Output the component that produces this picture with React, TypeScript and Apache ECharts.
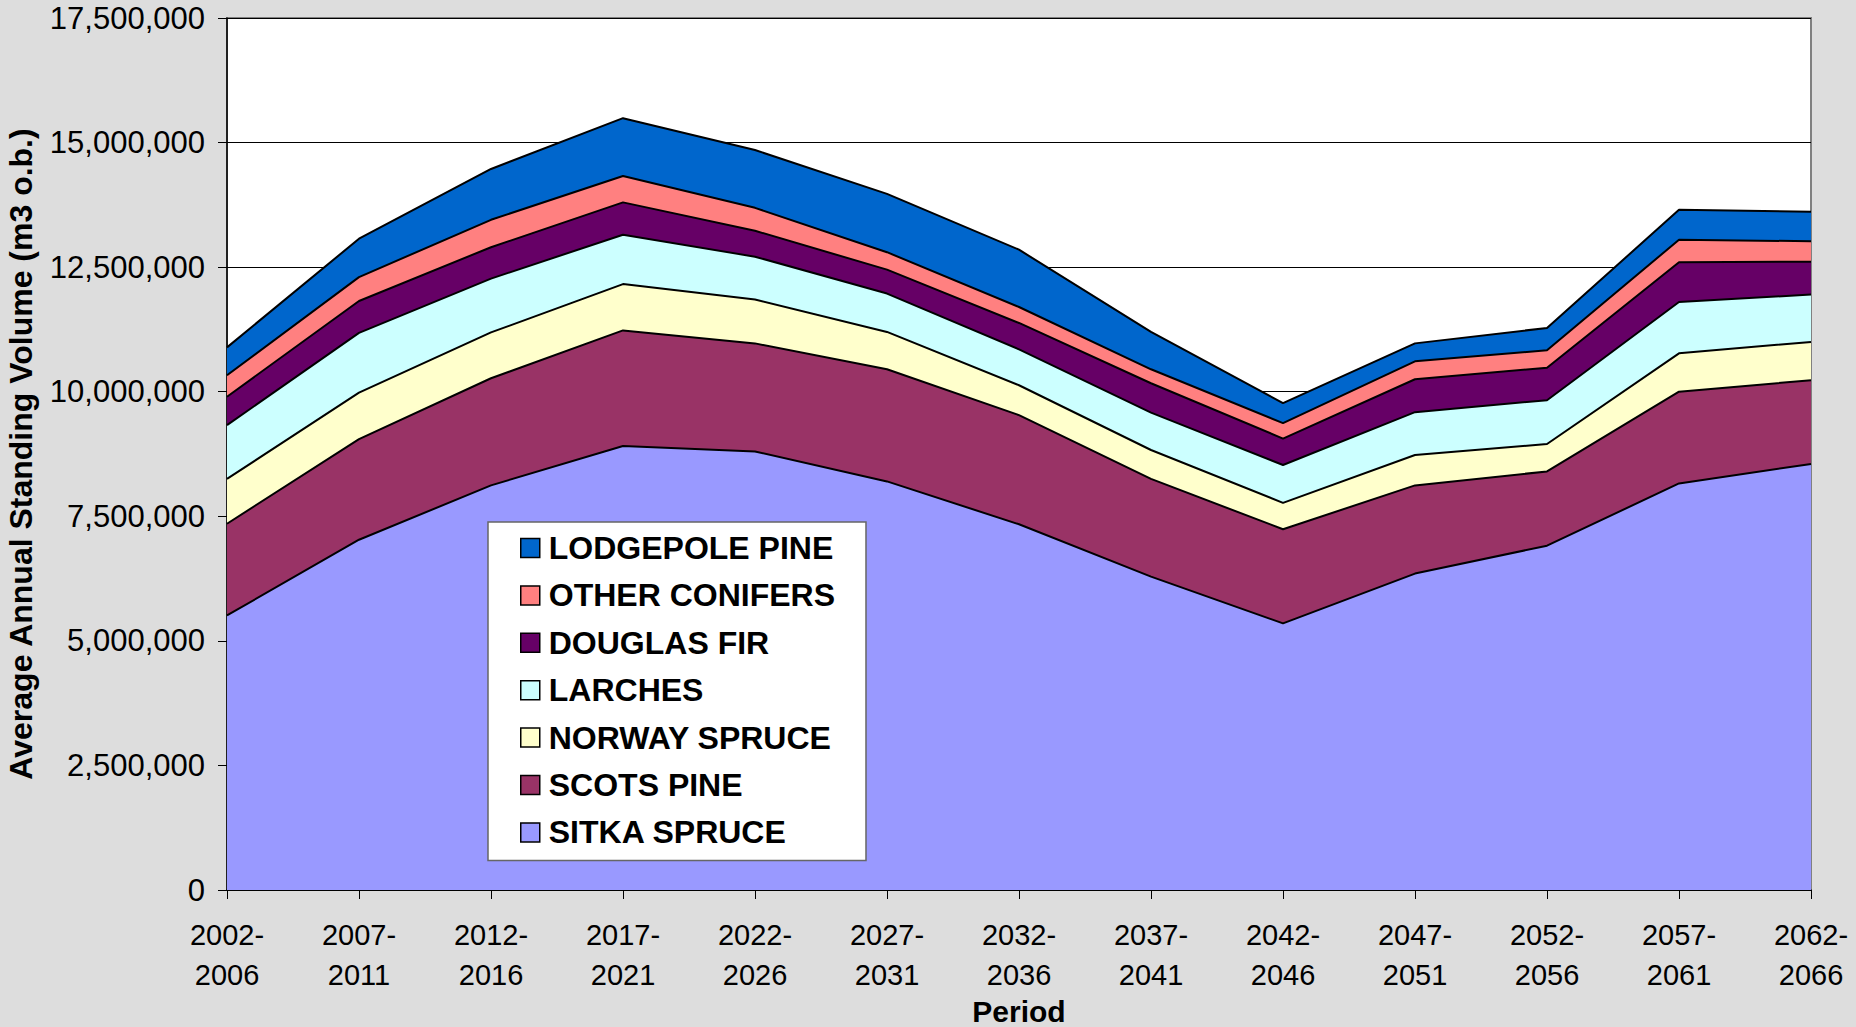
import React, { useEffect, useRef } from "react";
import * as echarts from "echarts";

const categories = [
  "2002-2006", "2007-2011", "2012-2016", "2017-2021", "2022-2026", "2027-2031", "2032-2036",
  "2037-2041", "2042-2046", "2047-2051", "2052-2056", "2057-2061", "2062-2066",
];

const sitkaSpruce = [5510000, 7030000, 8120000, 8910000, 8800000, 8200000, 7340000, 6290000, 5350000, 6350000, 6910000, 8160000, 8550000];
const scotsPine = [1840000, 2020000, 2150000, 2320000, 2170000, 2250000, 2190000, 1960000, 1890000, 1770000, 1490000, 1840000, 1680000];
const norwaySpruce = [900000, 930000, 920000, 930000, 880000, 750000, 600000, 580000, 530000, 610000, 550000, 770000, 770000];
const larches = [1080000, 1200000, 1080000, 990000, 860000, 770000, 720000, 750000, 760000, 860000, 880000, 1030000, 950000];
const douglasFir = [570000, 640000, 630000, 650000, 520000, 480000, 530000, 590000, 530000, 660000, 650000, 800000, 660000];
const otherConifers = [430000, 480000, 550000, 530000, 460000, 350000, 320000, 280000, 310000, 360000, 350000, 450000, 410000];
const lodgepolePine = [560000, 770000, 1020000, 1160000, 1160000, 1170000, 1150000, 750000, 400000, 360000, 450000, 600000, 590000];

const seriesDefs = [
  { name: "SITKA SPRUCE", data: sitkaSpruce, color: "#9999FF" },
  { name: "SCOTS PINE", data: scotsPine, color: "#993366" },
  { name: "NORWAY SPRUCE", data: norwaySpruce, color: "#FFFFCC" },
  { name: "LARCHES", data: larches, color: "#CCFFFF" },
  { name: "DOUGLAS FIR", data: douglasFir, color: "#660066" },
  { name: "OTHER CONIFERS", data: otherConifers, color: "#FF8080" },
  { name: "LODGEPOLE PINE", data: lodgepolePine, color: "#0066CC" },
];

const yMin = 0;
const yMax = 17500000;
const yInterval = 2500000;

const FONT = "'Liberation Sans', Arial, sans-serif";

export default function App() {
  const ref = useRef<HTMLDivElement>(null);

  useEffect(() => {
    document.body.style.margin = "0";
    if (!ref.current) return;
    const chart = echarts.init(ref.current, undefined, { renderer: "svg" });
    chart.setOption({
      animation: false,
      backgroundColor: "#DDDDDD",
      textStyle: { fontFamily: FONT },
      grid: {
        left: 227,
        right: 45,
        top: 18,
        bottom: 137,
        outerBoundsMode: "none",
        containLabel: false,
        show: true,
        backgroundColor: "#FFFFFF",
        borderColor: "#808080",
        borderWidth: 2,
      },
      legend: {
        orient: "vertical",
        left: 488,
        top: 522,
        data: [...seriesDefs].reverse().map((s) => s.name),
        icon: "rect",
        itemWidth: 19,
        itemHeight: 19,
        itemGap: 15.4,
        backgroundColor: "#FFFFFF",
        borderColor: "#666666",
        borderWidth: 1.5,
        padding: [10, 31, 12, 32],
        itemStyle: { borderColor: "#000000", borderWidth: 1.5 },
        textStyle: {
          fontFamily: FONT,
          fontWeight: "bold",
          fontSize: 32,
          lineHeight: 30,
          color: "#000000",
          padding: [0, 0, 0, 4],
        },
      },
      xAxis: {
        type: "category",
        data: categories,
        boundaryGap: false,
        name: "Period",
        nameLocation: "middle",
        nameGap: 106,
        nameMoveOverlap: false,
        nameTextStyle: { fontFamily: FONT, fontWeight: "bold", fontSize: 30, lineHeight: 30, color: "#000000" },
        axisLine: { lineStyle: { color: "#000000", width: 1.5 } },
        axisTick: { show: true, length: 9, lineStyle: { color: "#000000", width: 1 } },
        axisLabel: {
          fontFamily: FONT,
          fontSize: 29,
          lineHeight: 40,
          color: "#000000",
          margin: 25,
          interval: 0,
          formatter: (v: string) => v.replace("-", "-\n"),
        },
        splitLine: { show: false },
      },
      yAxis: {
        type: "value",
        min: yMin,
        max: yMax,
        interval: yInterval,
        name: "Average Annual Standing Volume (m3 o.b.)",
        nameLocation: "middle",
        nameGap: 190,
        nameMoveOverlap: false,
        nameTextStyle: { fontFamily: FONT, fontWeight: "bold", fontSize: 32, color: "#000000" },
        axisLine: { show: true, lineStyle: { color: "#000000", width: 1.5 } },
        axisTick: { show: true, length: 9, lineStyle: { color: "#000000", width: 1 } },
        axisLabel: {
          fontFamily: FONT,
          fontSize: 31,
          color: "#000000",
          margin: 22,
          formatter: (v: number) => v.toLocaleString("en-US"),
        },
        splitLine: { show: true, lineStyle: { color: "#000000", width: 1 } },
      },
      series: seriesDefs.map((s) => ({
        name: s.name,
        type: "line",
        stack: "total",
        data: s.data,
        symbol: "none",
        showSymbol: false,
        color: s.color,
        itemStyle: { color: s.color },
        lineStyle: { color: "#000000", width: 2 },
        areaStyle: { color: s.color, opacity: 1 },
        emphasis: { disabled: true },
      })),
    });
    return () => chart.dispose();
  }, []);

  return <div ref={ref} style={{ width: 1856, height: 1027 }} />;
}
